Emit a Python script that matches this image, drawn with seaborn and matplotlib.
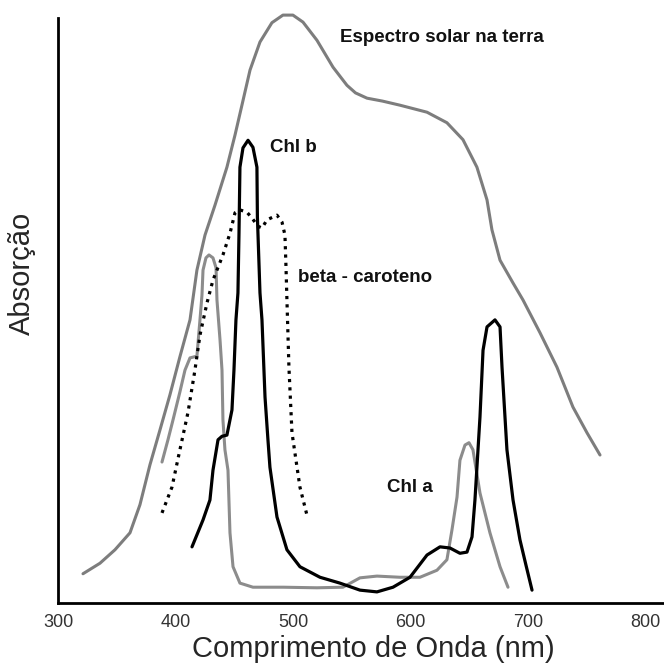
import pandas as pd
import numpy as np
import matplotlib
matplotlib.use('Agg')
import matplotlib.pyplot as plt
import seaborn as sns

# --- dados (comprimento de onda em nm, absorção relativa 0-100) ---
solar_nm = [320.5, 335.0, 347.8, 360.6, 369.1, 377.6, 386.2, 394.7, 403.2, 411.8,
            417.7, 424.6, 433.1, 443.3, 450.2, 456.1, 463.0, 471.5, 481.7, 491.1,
            499.6, 508.2, 520.1, 533.8, 545.7, 553.0, 562.8, 576.0, 590.9, 614.0,
            631.0, 644.7, 656.6, 665.2, 669.4, 676.3, 687.4, 695.9, 710.4, 724.9,
            738.5, 750.5, 761.6]
solar_abs = [5.0, 6.8, 9.1, 12.0, 16.8, 23.6, 29.6, 35.6, 42.1, 48.4,
             56.9, 62.9, 68.0, 74.5, 80.0, 85.1, 91.1, 95.9, 99.2, 100.5,
             100.5, 99.3, 96.2, 91.6, 88.5, 87.2, 86.3, 85.8, 85.1, 83.9,
             82.1, 79.2, 74.5, 68.9, 63.8, 58.6, 54.7, 51.8, 46.2, 40.3,
             33.5, 29.1, 25.3]

chl_cinza_nm = [387.9, 393.0, 397.3, 403.2, 407.5, 411.8, 417.7, 420.3, 422.0, 422.9,
                425.4, 428.0, 431.4, 434.0, 434.8, 437.4, 439.1, 439.9, 441.6, 444.2,
                445.9, 448.5, 454.4, 465.5, 491.1, 520.1, 542.3, 556.8, 571.3, 590.9,
                608.0, 622.5, 631.0, 635.3, 639.6, 642.1, 646.4, 649.8, 653.2, 659.2,
                667.7, 676.3, 683.1]
chl_cinza_abs = [24.1, 27.9, 31.3, 36.1, 39.8, 41.9, 42.2, 48.4, 52.6, 56.9,
                 59.0, 59.5, 59.0, 57.3, 51.8, 45.0, 39.8, 31.3, 26.2, 22.7,
                 12.0, 6.2, 3.4, 2.7, 2.7, 2.6, 2.7, 4.3, 4.6, 4.4,
                 4.4, 5.6, 7.4, 12.5, 18.1, 24.4, 27.0, 27.4, 26.2, 18.8,
                 12.0, 6.2, 2.7]

chl_preta_nm = [413.5, 422.9, 428.8, 431.4, 435.7, 439.1, 443.3, 447.6, 449.3, 451.0,
                452.7, 453.6, 454.4, 457.0, 461.3, 465.5, 468.9, 469.3, 471.5, 473.2,
                475.8, 478.3, 480.0, 486.0, 494.5, 505.6, 522.7, 539.7, 556.8, 571.3,
                585.0, 599.5, 614.0, 625.1, 633.6, 642.1, 648.1, 652.4, 654.9, 656.6,
                659.2, 661.8, 665.2, 672.0, 676.3, 678.0, 682.2, 687.4, 693.3, 698.4, 703.6]
chl_preta_abs = [9.6, 14.2, 17.6, 22.7, 27.9, 28.5, 28.7, 33.0, 39.8, 48.4,
                 53.0, 63.2, 74.5, 77.8, 79.1, 77.9, 74.5, 66.0, 53.0, 48.4,
                 35.2, 27.9, 23.2, 14.7, 9.1, 6.2, 4.4, 3.4, 2.2, 1.9,
                 2.7, 4.4, 8.2, 9.6, 9.4, 8.5, 8.7, 11.3, 17.6, 23.2,
                 31.8, 43.2, 47.2, 48.4, 47.2, 40.3, 26.2, 17.6, 10.8, 6.5, 2.2]

beta_nm = [387.9, 396.4, 403.2, 410.1, 416.0, 420.3, 426.3, 431.4, 439.9, 445.9,
           450.2, 454.4, 460.4, 464.7, 469.8, 473.2, 477.5, 486.0, 490.3, 492.8,
           493.7, 494.5, 496.2, 498.8, 505.6, 511.6]
beta_abs = [15.4, 19.8, 26.2, 32.6, 39.8, 45.8, 51.3, 55.2, 59.5, 63.2,
            66.7, 67.2, 66.8, 65.8, 64.4, 64.1, 65.5, 66.3, 65.1, 62.9,
            57.4, 51.8, 40.3, 29.1, 19.8, 15.0]

x_ticks = [300, 400, 500, 600, 700, 800]

sns.set_style('white')
plt.rcParams['font.family'] = ['Liberation Sans', 'DejaVu Sans']

fig = plt.figure(figsize=(6.64, 6.70), dpi=100)
ax = fig.add_axes([0.0873, 0.1, 0.9127, 0.8731])

sns.lineplot(x=solar_nm, y=solar_abs, sort=False, estimator=None, ax=ax,
             color='#7d7d7d', linewidth=2.2, clip_on=False)
sns.lineplot(x=chl_cinza_nm, y=chl_cinza_abs, sort=False, estimator=None, ax=ax,
             color='#8c8c8c', linewidth=2.2)
sns.lineplot(x=chl_preta_nm, y=chl_preta_abs, sort=False, estimator=None, ax=ax,
             color='black', linewidth=2.3)
sns.lineplot(x=beta_nm, y=beta_abs, sort=False, estimator=None, ax=ax,
             color='black', linewidth=2.3, linestyle=(0, (1, 1.6)))

# rótulos das curvas
kw = dict(fontsize=13.5, fontweight='bold', va='center', ha='left', color='#111111')
ax.text(539.7, 96.6, 'Espectro solar na terra', **kw)
ax.text(480.0, 77.9, 'Chl b', **kw)
ax.text(503.9, 55.7, 'beta - caroteno', **kw)
ax.text(579.9, 19.7, 'Chl a', **kw)

ax.set_xlim(299.15, 816.2)
ax.set_ylim(0, 100)
ax.set_xticks(x_ticks)
ax.set_xticklabels([str(t) for t in x_ticks])
ax.set_yticks([])
ax.tick_params(axis='x', length=0, pad=8, labelsize=13, labelcolor='#333333')

for s in ['top', 'right']:
    ax.spines[s].set_visible(False)
for s in ['left', 'bottom']:
    ax.spines[s].set_linewidth(2.0)
    ax.spines[s].set_color('black')

ax.set_xlabel('Comprimento de Onda (nm)', fontsize=21)
ax.set_ylabel('Absorção', fontsize=21)
ax.xaxis.set_label_coords(0.52, -0.055)
ax.yaxis.set_label_coords(-0.036, 0.564)

fig.savefig('out.png', dpi=100, facecolor='white')
